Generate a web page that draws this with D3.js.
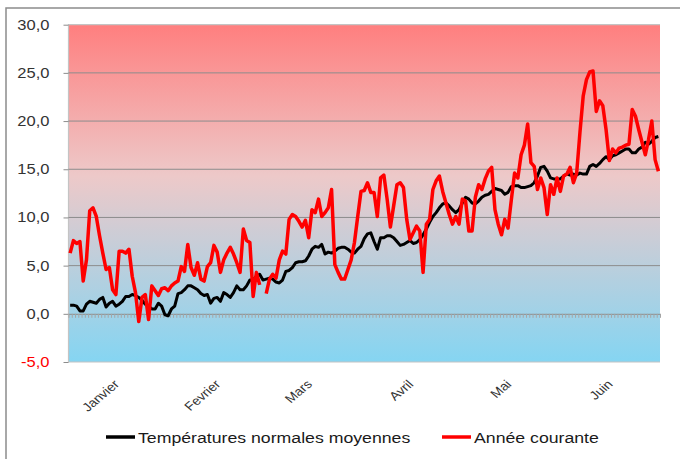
<!DOCTYPE html>
<html lang="fr">
<head>
<meta charset="utf-8">
<title>Températures</title>
<style>
  body { margin: 0; background: #ffffff; }
  svg text { font-family: "Liberation Sans", Arial, sans-serif; fill: #333333; }
</style>
</head>
<body>
<div id="chart"></div>
<script src="https://d3js.org/d3.v7.min.js"></script>
<script>
  // Températures normales moyennes, un point par jour (1er janvier -> 30 juin)
  var normales = [
    0.9, 0.9, 0.8, 0.3, 0.3, 1.0, 1.3, 1.2, 1.1, 1.5,
    1.7, 0.7, 1.1, 1.3, 0.8, 1.0, 1.3, 1.8, 1.8, 2.0,
    1.9, 1.7, 1.4, 1.0, 0.8, 0.5, 0.5, 1.1, 0.8, -0.1,
    -0.2, 0.5, 0.8, 2.1, 2.2, 2.5, 2.9, 2.9, 2.7, 2.5,
    2.1, 1.9, 2.0, 1.1, 1.6, 1.7, 1.3, 2.2, 2.0, 1.7,
    2.2, 2.9, 2.5, 2.5, 2.9, 3.5, 3.5, 3.9, 4.1, 3.5,
    3.6, 3.7, 3.6, 3.3, 3.2, 3.5, 4.4, 4.5, 4.8, 5.3,
    5.4, 5.4, 5.5, 6.0, 6.7, 7.0, 6.9, 7.2, 6.2, 6.4,
    6.3, 6.5, 6.8, 6.9, 6.9, 6.7, 6.4, 6.3, 6.7, 7.0,
    7.8, 8.3, 8.4, 7.5, 6.7, 7.9, 7.9, 8.1, 8.1, 7.9,
    7.5, 7.1, 7.2, 7.4, 7.6, 7.3, 7.4, 7.7, 8.2, 8.8,
    9.5, 10.1, 10.5, 11.0, 11.4, 11.5, 11.2, 10.8, 10.5, 10.8,
    11.5, 12.1, 11.9, 11.5, 11.4, 11.7, 12.1, 12.3, 12.4, 12.7,
    13.0, 12.9, 12.8, 12.4, 12.6, 13.2, 13.3, 13.3, 13.1, 13.1,
    13.2, 13.3, 13.6, 14.3, 15.2, 15.3, 14.8, 14.1, 14.0, 14.0,
    14.0, 14.3, 14.5, 14.4, 14.5, 14.4, 14.6, 14.5, 14.5, 15.3,
    15.5, 15.3, 15.6, 16.0, 16.3, 16.0, 16.4, 16.5, 16.7, 16.9,
    17.1, 17.1, 16.7, 16.7, 17.1, 17.3, 17.8, 17.6, 17.9, 18.3,
    18.4
  ];

  // Année courante (null = jour manquant)
  var courante = [
    6.3, 7.6, 7.3, 7.5, 3.4, 5.6, 10.7, 11.0, 10.1, 8.1,
    6.3, 4.6, 4.8, 2.5, 2.0, 6.5, 6.5, 6.3, 6.7, 3.9,
    2.2, -0.8, 1.7, 2.0, -0.6, 2.9, 2.4, 1.9, 2.6, 2.7,
    2.4, 2.9, 3.2, 3.4, 4.9, 4.4, 7.2, 4.8, 4.0, 5.3,
    3.6, 3.4, 4.9, 5.3, 7.1, 6.4, 4.3, 5.6, 6.3, 6.9,
    6.2, 5.3, 4.3, 8.8, 7.6, 7.4, 1.8, 4.3, 3.0, null,
    2.1, 3.6, 4.1, 3.7, 5.6, 6.5, 6.2, 9.8, 10.3, 10.1,
    9.6, 9.0, 9.7, 7.9, 10.8, 10.5, 11.9, 10.1, 10.5, 11.0,
    12.9, 5.1, 4.3, 3.6, 3.6, 4.6, 5.6, 7.4, 10.1, 12.7,
    12.8, 13.6, 12.6, 12.6, 10.1, 14.1, 14.4, 11.9, 9.0, 11.2,
    13.4, 13.6, 13.1, 9.8, 7.7, 8.4, 9.1, 8.6, 4.3, 9.3,
    9.8, 12.9, 13.8, 14.3, 12.7, 11.5, 10.3, 9.3, 10.1, 9.3,
    11.9, 11.7, 8.6, 8.6, 12.1, 13.4, 12.9, 14.0, 14.8, 15.2,
    10.8, 9.3, 8.2, 9.8, 8.9, 11.8, 14.6, 14.1, 16.5, 17.5,
    19.7, 15.7, 15.3, 12.9, 14.1, 13.1, 10.3, 13.4, 12.4, 14.1,
    12.7, 14.3, 14.5, 15.2, 13.6, 14.6, 18.8, 22.6, 24.3, 25.1,
    25.2, 21.0, 22.1, 21.6, 19.1, 15.9, 17.1, 16.7, 17.2, 17.3,
    17.5, 17.6, 21.2, 20.5, 19.1, 17.8, 16.5, 18.1, 20.0, 16.0,
    14.8
  ];

  var mois = ["Janvier", "Fevrier", "Mars", "Avril", "Mai", "Juin"];
  var debutMois = [0, 31, 59, 90, 120, 151];
  var graduations = [-5, 0, 5, 10, 15, 20, 25, 30];
  var legende = ["Températures normales moyennes", "Année courante"];
  var couleurs = ["#000000", "#ff0000"];

  var width = 680,
    height = 459,
    plot = { left: 68.5, right: 660, top: 24.7, bottom: 362 },
    etirement = 1.18; // le texte du graphique d'origine est étiré en largeur

  var svg = d3.select("#chart")
    .append("svg")
    .attr("width", width)
    .attr("height", height);

  var grad = svg.append("defs")
    .append("linearGradient")
    .attr("id", "fond")
    .attr("x1", 0).attr("y1", 0)
    .attr("x2", 0).attr("y2", 1);
  grad.append("stop").attr("offset", "0%").attr("stop-color", "#ff7f7f");
  grad.append("stop").attr("offset", "45%").attr("stop-color", "#edc9c9");
  grad.append("stop").attr("offset", "100%").attr("stop-color", "#85d5f2");

  // cadre extérieur
  svg.append("rect")
    .attr("x", 6).attr("y", 8)
    .attr("width", 720).attr("height", 500)
    .attr("fill", "none")
    .attr("stroke", "#8c8c8c")
    .attr("stroke-width", 1.5);

  var x = d3.scaleLinear()
    .domain([-0.5, normales.length - 0.5])
    .range([plot.left, plot.right]);

  var y = d3.scaleLinear()
    .domain([-5, 30])
    .range([plot.bottom, plot.top]);

  svg.append("rect")
    .attr("x", plot.left)
    .attr("y", plot.top)
    .attr("width", plot.right - plot.left)
    .attr("height", plot.bottom - plot.top)
    .attr("fill", "url(#fond)");

  // bordure de la zone de tracé (haut, gauche, bas)
  svg.append("path")
    .attr("d", "M" + plot.right + "," + plot.top + "H" + plot.left + "V" + plot.bottom + "H" + plot.right)
    .attr("fill", "none")
    .attr("stroke", "#c4c4c4")
    .attr("stroke-width", 1.2);

  // quadrillage + axe vertical
  svg.append("g")
    .selectAll("line")
    .data(graduations.filter(function (d) { return d > -5 && d < 30 && d !== 0; }))
    .enter()
    .append("line")
    .attr("x1", plot.left)
    .attr("x2", plot.right)
    .attr("y1", function (d) { return y(d); })
    .attr("y2", function (d) { return y(d); })
    .attr("stroke", "#8c8c8c")
    .attr("stroke-width", 1);

  var axeY = svg.append("g")
    .attr("transform", "translate(" + plot.left + ",0)")
    .call(d3.axisLeft(y).tickValues(graduations).tickSize(5).tickFormat(""));
  axeY.select(".domain").remove();
  axeY.selectAll("line").attr("stroke", "#8c8c8c");

  svg.append("g")
    .selectAll("text")
    .data(graduations)
    .enter()
    .append("text")
    .attr("transform", function (d) {
      return "translate(49.5," + (y(d) + 5) + ") scale(" + etirement + ",1)";
    })
    .attr("text-anchor", "end")
    .style("font-size", "14px")
    .style("fill", function (d) { return d < 0 ? "#ff0000" : "#333333"; })
    .text(function (d) { return d3.format(".1f")(d).replace(".", ",").replace("−", "-"); });

  // axe horizontal sur 0, une graduation par jour
  var jours = d3.range(normales.length + 1).map(function (i) { return i - 0.5; });
  var axeX = svg.append("g")
    .attr("transform", "translate(0," + y(0) + ")")
    .call(d3.axisBottom(x).tickValues(jours).tickSize(4).tickSizeOuter(0).tickFormat(""));
  axeX.select(".domain").attr("stroke", "#8c8c8c");
  axeX.selectAll(".tick line").attr("stroke", "#a6a6a6");

  // étiquettes des mois
  svg.append("g")
    .selectAll("text")
    .data(mois)
    .enter()
    .append("text")
    .attr("transform", function (d, i) {
      return "translate(" + (x(debutMois[i] + 15) + 1) + ",385) scale(" + etirement + ",1) rotate(-45)";
    })
    .attr("text-anchor", "end")
    .style("font-size", "12px")
    .text(function (d) { return d; });

  var ligne = d3.line()
    .defined(function (d) { return d != null; })
    .x(function (d, i) { return x(i); })
    .y(function (d) { return y(d); });

  svg.append("path")
    .datum(normales)
    .attr("fill", "none")
    .attr("stroke", couleurs[0])
    .attr("stroke-width", 3)
    .attr("stroke-linejoin", "round")
    .attr("d", ligne);

  svg.append("path")
    .datum(courante)
    .attr("fill", "none")
    .attr("stroke", couleurs[1])
    .attr("stroke-width", 3.5)
    .attr("stroke-linejoin", "round")
    .attr("d", ligne);

  // légende
  var posLegende = [106, 442];
  var leg = svg.append("g")
    .selectAll("g")
    .data(legende)
    .enter()
    .append("g")
    .attr("transform", function (d, i) { return "translate(" + posLegende[i] + ",437)"; });

  leg.append("line")
    .attr("x1", 0).attr("x2", 29)
    .attr("y1", 0).attr("y2", 0)
    .attr("stroke", function (d, i) { return couleurs[i]; })
    .attr("stroke-width", 3.5);

  leg.append("text")
    .attr("transform", "translate(32,6) scale(" + etirement + ",1)")
    .style("font-size", "15px")
    .style("fill", "#1a1a1a")
    .text(function (d) { return d; });
</script>
</body>
</html>
